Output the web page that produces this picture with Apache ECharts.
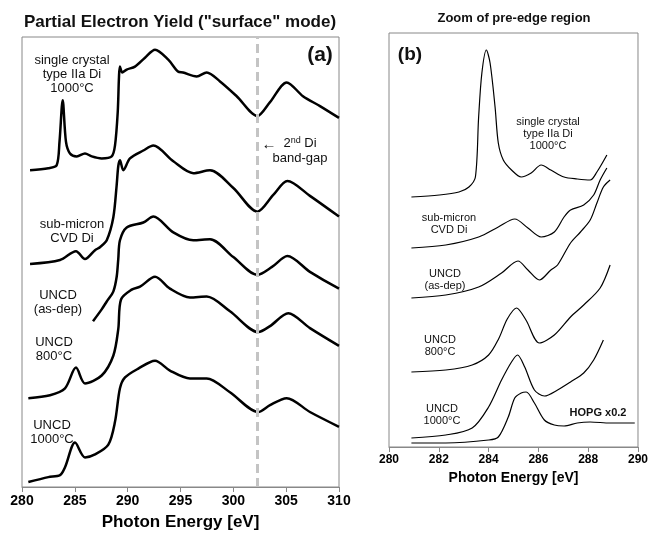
<!DOCTYPE html>
<html>
<head>
<meta charset="utf-8">
<script src="https://cdn.jsdelivr.net/npm/echarts@6/dist/echarts.min.js"></script>
<style>
  html, body { margin: 0; padding: 0; background: #fff; }
  #chart { width: 651px; height: 536px; }
</style>
</head>
<body>
<div id="chart"></div>
<script>
// panel (a): [photon energy eV, intensity a.u. incl. offset]
const crystalA = [[280.76,321],[282.49,323],[283.28,326],[283.55,350],[283.85,392],[284.16,350],[284.54,338],[285.18,335],[285.96,338],[286.6,335],[287.54,333],[288.49,335],[288.8,346],[289.06,380],[289.18,416],[289.27,426],[289.49,420],[289.91,423],[290.69,426],[291.64,435],[292.59,443],[293.84,433],[294.76,421],[295.24,420],[296.53,416],[297.48,420],[298.74,411],[300.32,396],[302.27,376],[303.47,390],[305.05,410],[306.59,396],[308.2,386],[310,374]]
const cvdA = [[280.76,226],[283.6,230],[285.11,239],[285.96,231],[286.91,240],[287.38,243],[288.02,250],[288.64,273],[288.96,306],[289.11,325],[289.27,331],[289.59,321],[290.22,333],[291.48,341],[292.43,346],[294.32,330],[296.21,318],[297.79,321],[300,303],[302.27,279],[303.78,296],[305.12,310],[307.25,295],[310,274]]
const asdepA = [[286.72,168],[287.54,180],[288.02,188],[288.64,198],[288.96,213],[289.11,231],[289.27,250],[289.91,263],[291.48,268],[292.43,274],[294.32,258],[296.21,250],[297.79,251],[300,233],[302.27,215],[303.66,223],[305.12,234],[307.25,218],[310,201]]
const uncd800A = [[280.6,90],[282.65,93],[284.07,100],[285.11,121],[285.96,105],[287.54,113],[288.64,133],[289.11,160],[289.37,190],[290.38,200],[291.17,203],[292.59,213],[294,201],[295.9,192],[297.48,193],[299.68,178],[302.36,157],[303.47,163],[305.2,176],[307.25,161],[310,143]]
const uncd1000A = [[280.6,5],[282.49,10],[283.6,12],[284.07,20],[285.02,45],[285.96,30],[286.91,33],[288.17,43],[288.8,66],[289.27,100],[289.75,111],[291.01,120],[292.59,128],[294,118],[295.9,110],[297.48,110],[299.68,96],[302.36,76],[303.47,83],[305.05,90],[307.25,76],[310,61]]
const bandGap = 302.27

// panel (b): pre-edge zoom
const crystalB = [[280.9,250],[282.02,252],[282.81,255],[283.21,260],[283.47,270],[283.6,330],[283.73,374],[283.91,397],[284.06,384],[284.26,340],[284.39,304],[284.59,287],[284.92,277],[285.31,270],[285.71,274],[286.11,282],[286.5,277],[287.03,270],[287.56,268],[288.08,267],[288.35,275],[288.75,292]]
const cvdB = [[280.9,199],[282.28,202],[283.6,210],[284.39,220],[285.05,228],[285.58,219],[286.11,210],[286.64,215],[287.03,230],[287.29,237],[287.82,242],[288.22,252],[288.48,267],[288.75,279]]
const asdepB = [[280.9,149],[282.28,152],[283.6,160],[284.52,174],[285.18,186],[285.58,177],[286.04,167],[286.5,177],[286.77,182],[287.29,204],[287.69,215],[288.08,227],[288.35,244],[288.61,260],[288.88,267]]
const uncd800B = [[280.9,75],[282.28,77],[283.34,82],[284,92],[284.4,108],[284.75,128],[285.12,139],[285.5,127],[286.04,104],[286.64,112],[287.29,130],[287.82,142],[288.48,159],[288.88,182]]
const uncd1000B = [[280.9,9],[282.28,12],[283.34,19],[284,40],[284.52,67],[284.92,85],[285.16,92],[285.45,80],[285.84,57],[286.24,51],[286.77,57],[287.29,65],[287.82,74],[288.22,87],[288.61,107]]
const hopgB = [[280.9,4],[282.28,4],[284,7],[284.39,10],[284.79,30],[285.05,49],[285.31,54],[285.51,55],[285.84,44],[286.24,27],[286.64,22],[287.03,21],[287.56,24],[288.08,25],[288.88,24],[289.87,24]]

const FONT = 'Liberation Sans, Arial, sans-serif'
const chart = echarts.init(document.getElementById('chart'))

function curve(data, xi, w) {
  return {
    type: 'line', xAxisIndex: xi, yAxisIndex: xi, data: data,
    showSymbol: false, smooth: 0.3, silent: true,
    lineStyle: { color: '#000', width: w }
  }
}

const seriesA = [crystalA, cvdA, asdepA, uncd800A, uncd1000A].map(d => curve(d, 0, 2.5))
seriesA[0].markLine = {
  silent: true, symbol: 'none', label: { show: false },
  lineStyle: { color: '#c4c4c4', width: 3, type: [9, 5] },
  data: [{ xAxis: bandGap }]
}
const seriesB = [crystalB, cvdB, asdepB, uncd800B, uncd1000B, hopgB].map(d => curve(d, 1, 1.2))

function txt(x, y, s, size, bold, align) {
  return {
    type: 'text', x: x, y: y,
    style: {
      text: s, fill: '#111', font: (bold ? 'bold ' : '') + size + 'px ' + FONT,
      align: align || 'center', verticalAlign: 'middle', lineHeight: size + 1
    }
  }
}

const axisCommon = {
  type: 'value',
  axisLine: { lineStyle: { color: '#888' } },
  axisTick: { inside: false, length: 5, lineStyle: { color: '#888' } },
  splitLine: { show: false },
  nameLocation: 'middle',
  nameTextStyle: { color: '#000', fontWeight: 'bold', fontFamily: FONT }
}

chart.setOption({
  animation: false,
  grid: [
    { left: 22, top: 37, width: 317, height: 456, show: true, borderColor: '#888', borderWidth: 1 },
    { left: 389, top: 33, width: 253, height: 414, show: true, borderColor: '#888', borderWidth: 1 }
  ],
  xAxis: [
    Object.assign({}, axisCommon, {
      gridIndex: 0, min: 280, max: 310, interval: 5,
      axisLabel: { color: '#000', fontSize: 14, fontWeight: 'bold', fontFamily: FONT, margin: 7 },
      name: 'Photon Energy [eV]', nameGap: 27,
      nameTextStyle: Object.assign({}, axisCommon.nameTextStyle, { fontSize: 17 })
    }),
    Object.assign({}, axisCommon, {
      gridIndex: 1, min: 280, max: 290, interval: 2,
      axisLabel: { color: '#000', fontSize: 12, fontWeight: 'bold', fontFamily: FONT, margin: 7 },
      name: 'Photon Energy [eV]', nameGap: 21,
      nameTextStyle: Object.assign({}, axisCommon.nameTextStyle, { fontSize: 14 })
    })
  ],
  yAxis: [
    { type: 'value', gridIndex: 0, min: 0, max: 456, show: false },
    { type: 'value', gridIndex: 1, min: 0, max: 414, show: false }
  ],
  series: seriesA.concat(seriesB),
  graphic: [
    txt(180, 22, 'Partial Electron Yield ("surface" mode)', 17, true),
    txt(514, 18, 'Zoom of pre-edge region', 13, true),
    txt(320, 55, '(a)', 21, true),
    txt(410, 55, '(b)', 19, true),
    txt(72, 74, 'single crystal\ntype IIa Di\n1000°C', 13, false),
    txt(72, 231, 'sub-micron\nCVD Di', 13, false),
    txt(58, 302, 'UNCD\n(as-dep)', 13, false),
    txt(54, 349, 'UNCD\n800°C', 13, false),
    txt(52, 432, 'UNCD\n1000°C', 13, false),
    txt(269, 145, '←', 15, false),
    {
      type: 'text', x: 300, y: 151,
      style: {
        text: '{a|2}{s|nd}{a| Di}\n{a|band-gap}', align: 'center', verticalAlign: 'middle',
        rich: {
          a: { fontSize: 13, fontFamily: FONT, fill: '#111', lineHeight: 15 },
          s: { fontSize: 9, fontFamily: FONT, fill: '#111', verticalAlign: 'top', lineHeight: 15 }
        }
      }
    },
    txt(548, 134, 'single crystal\ntype IIa Di\n1000°C', 11, false),
    txt(449, 224, 'sub-micron\nCVD Di', 11, false),
    txt(445, 280, 'UNCD\n(as-dep)', 11, false),
    txt(440, 346, 'UNCD\n800°C', 11, false),
    txt(442, 415, 'UNCD\n1000°C', 11, false),
    txt(598, 413, 'HOPG x0.2', 11, true)
  ]
})
</script>
</body>
</html>
